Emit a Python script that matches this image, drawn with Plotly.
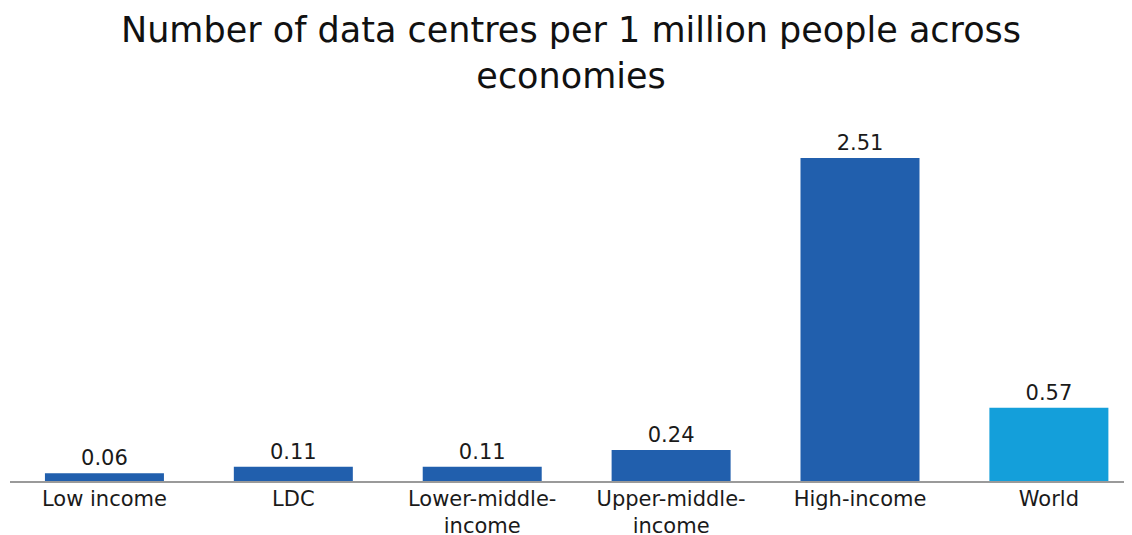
import plotly.graph_objects as go

categories = ["Low income", "LDC", "Lower-middle-<br>income", "Upper-middle-<br>income", "High-income", "World"]
values = [0.06, 0.11, 0.11, 0.24, 2.51, 0.57]
bar_colors = ["#215FAD", "#215FAD", "#215FAD", "#215FAD", "#215FAD", "#149FDA"]
value_text = ["0.06", "0.11", "0.11", "0.24", "2.51", "0.57"]
title_text = "Number of data centres per 1 million people across<br>economies"

FONT = "DejaVu Sans"

fig = go.Figure(go.Bar(
    x=categories,
    y=values,
    marker=dict(color=bar_colors, line=dict(width=0)),
    text=value_text,
    textposition="outside",
    textfont=dict(size=21, color="#1a1a1a", family=FONT),
    cliponaxis=False,
    width=0.63,
))

fig.add_annotation(
    text=title_text,
    xref="paper", yref="paper",
    x=0.5, y=1.185,
    xanchor="center", yanchor="middle",
    showarrow=False,
    font=dict(size=35, color="#111111", family=FONT),
)

# page body has an 8px margin; figure is sized to fill the rest of the window
fig.update_layout(
    width=1124,
    height=527,
    paper_bgcolor="white",
    plot_bgcolor="white",
    margin=dict(l=2, r=0, t=112, b=54, autoexpand=False),
    font=dict(family=FONT, color="#1a1a1a"),
    xaxis=dict(
        range=[-0.5, 5.44],
        showline=True, linecolor="#9A9A9A", linewidth=1.5,
        showgrid=False, ticks="",
        tickfont=dict(size=21, color="#1a1a1a", family=FONT),
        ticklabelstandoff=-2,
        zeroline=False,
        automargin=False,
    ),
    yaxis=dict(
        range=[0, 2.805],
        visible=False,
        automargin=False,
    ),
    showlegend=False,
)

fig.write_html("out.html")
